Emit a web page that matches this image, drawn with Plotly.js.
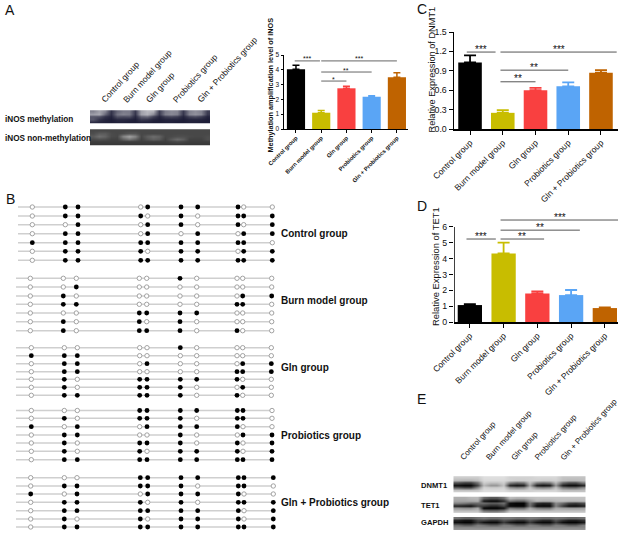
<!DOCTYPE html>
<html><head><meta charset="utf-8">
<script src="https://cdn.plot.ly/plotly-3.0.1.min.js"></script>
<style>html,body{margin:0;padding:0;background:#fff}#c{width:625px;height:533px}</style>
</head><body><div id="c"></div>
<script>
const groups = ['Control group','Burn model group','Gln group','Probiotics group','Gln + Probiotics group'];
const colors = ['#000000','#c8bd00','#f94040','#5aa5f5','#bf6300'];

const inosValues = [4.03,1.1,2.75,2.18,3.5];
const inosErrors = [0.28,0.15,0.14,0.07,0.3];
const dnmtValues = [1.03,0.25,0.6,0.66,0.87];
const dnmtErrors = [0.11,0.04,0.035,0.06,0.04];
const tetValues  = [1.07,4.33,1.8,1.7,0.88];
const tetErrors  = [0.05,0.68,0.13,0.32,0.04];

// significance brackets: [from, to, level, stars]
const inosSig = [[-0.05,0.95,4.6,'***'],[1,4,4.6,'***'],[1,3,3.85,'**'],[1,2,3.24,'*']];
const dnmtSig = [[-0.1,0.78,1.19,'***'],[0.93,4.48,1.19,'***'],[0.93,3,0.91,'**'],[0.93,2,0.73,'**']];
const tetSig  = [[-0.1,0.77,5.24,'***'],[0.91,4.42,6.44,'***'],[0.91,3.26,5.8,'**'],[0.91,2.2,5.24,'**']];

// CpG sites (x) and rows (y) per group of the lollipop panel, in page pixels
const cpgControl = [32.3,65.3,78,140.7,147.7,181,197.7,238,243.7,272.3];
const cpgBurn    = [30.3,63.3,76.3,139.3,146.7,180,196.7,237,242.7,271.7];
const cpgGln     = [31.3,64.3,77.3,139.7,147,180.3,196.7,237,242.7,271.3];
const cpgProb    = [31.3,64.3,77.3,139.7,147,180.3,196.7,237.3,243,272];
const cpgBoth    = [30.7,64.3,77,140.3,147.7,181,197.7,238.3,244,273.3];
const rowsControl = [207,216,224.7,233.7,242.7,251.3,260.3];
const rowsBurn    = [278.3,287,296,304.3,313,321.7,330.7];
const rowsGln     = [347.7,355.7,363.7,371.7,379.3,387.3,395.3];
const rowsProb    = [410.5,418.3,426.7,435,443,451.3,459.7];
const rowsBoth    = [477.7,486,494,502.3,510.7,519,527];
const methControl = ['0110111100','0111010111','0010110101','0110101011','1111111110','0111011011','0111111111'];
const methBurn    = ['0000010000','0010000000','0100000011','0110000110','0001111000','0101010000','0101110100'];
const methGln     = ['0000010000','1110000000','0110100011','0110000111','0101111100','0101110010','0111110100'];
const methProb    = ['0001111110','0101110110','1010111100','0110010011','0101110101','0101011101','0111111111'];
const methBoth    = ['0001111111','0111110110','1010111100','0111010111','0111111101','0101011101','0111111111'];
const lollipop = [
  {cpg:cpgControl,rows:rowsControl,meth:methControl,start:18,end:274},
  {cpg:cpgBurn,rows:rowsBurn,meth:methBurn,start:16,end:274},
  {cpg:cpgGln,rows:rowsGln,meth:methGln,start:16,end:274},
  {cpg:cpgProb,rows:rowsProb,meth:methProb,start:16,end:274},
  {cpg:cpgBoth,rows:rowsBoth,meth:methBoth,start:16,end:275}
];
const lollipopLabelY = [233,300.5,367.5,435,502];

// gel densitometry (grey level, 0 black - 255 white)
const gelAX = [93,99,105,111,117,123,129,135,141,147,153,159,165,171,177,183,189,195,201,207];
const gelMethY = [111.5,114,116.5,119,122];
const gelMethZ = [
 [120,150,120,40,90,110,110,45,150,175,165,50,110,125,120,45,115,130,115,50],
 [150,160,90,35,105,120,110,40,150,170,125,45,115,125,115,40,120,135,120,45],
 [75,70,40,25,70,65,70,28,85,95,55,25,50,60,50,25,55,65,50,25],
 [75,40,25,18,30,30,25,18,45,40,25,18,25,25,25,18,25,25,25,18],
 [30,25,22,18,22,22,18,18,22,22,18,18,22,22,18,18,22,22,18,18]];
const gelNonY = [130.5,133,136,139,141.5,144];
const gelNonZ = [
 [72,72,72,72,72,72,72,72,72,72,72,72,72,72,72,72,72,72,72,72],
 [78,92,92,76,72,78,86,86,72,72,72,72,72,72,72,72,72,72,72,72],
 [92,112,100,75,72,135,165,135,72,95,110,100,72,75,80,80,75,72,72,78],
 [72,78,75,66,66,95,115,95,66,82,95,88,66,90,108,95,66,66,66,78],
 [62,62,62,62,62,62,62,62,62,62,62,62,62,68,74,68,62,62,62,62],
 [56,56,56,56,56,56,56,56,56,56,56,56,56,56,56,56,56,56,56,56]];
const gelEX = [457,464,470,477,483,490,496,503,509,516,523,529,536,542,549,555,562,568,575,582];
const dnmt1Y = [477.5,480,482.5,485,487.5,490.5];
const dnmt1Z = [
 [205,205,205,205,222,222,222,222,210,210,210,210,215,215,215,215,195,195,195,195],
 [185,180,180,190,218,218,218,218,210,205,205,210,210,205,205,210,190,185,185,190],
 [90,70,70,120,208,195,195,208,140,115,125,195,135,120,130,190,110,85,85,130],
 [15,5,5,70,185,150,150,195,40,20,30,170,30,15,25,150,30,10,10,35],
 [90,70,70,140,212,205,205,212,150,130,140,200,140,130,140,195,120,105,105,140],
 [205,205,205,205,222,222,222,222,210,210,210,210,215,215,215,215,195,195,195,195]];
const tet1Y = [498,500.5,503,505.5,508,511];
const tet1Z = [
 [175,175,185,185,110,90,90,120,190,180,180,190,195,195,195,195,195,195,195,195],
 [165,165,170,175,25,10,10,45,120,100,100,150,185,175,175,185,190,185,185,190],
 [135,125,110,110,110,95,95,115,15,5,5,120,50,35,40,140,110,70,60,80],
 [35,25,15,70,60,40,40,70,10,5,5,110,12,8,8,130,60,15,12,30],
 [150,140,140,170,5,0,0,20,120,105,105,170,125,115,115,170,160,155,155,160],
 [195,195,195,195,130,120,120,140,195,195,195,195,195,195,195,195,195,195,195,195]];
const gapdhY = [518,520,522,524.5,527,529];
const gapdhZ = [
 [115,100,100,115,125,115,115,125,125,115,115,125,120,110,110,120,115,105,105,115],
 [35,20,20,70,70,50,50,85,70,50,50,85,60,40,40,85,50,30,30,50],
 [15,5,5,55,20,10,10,60,25,10,10,60,20,10,10,60,15,5,5,25],
 [110,90,90,125,115,95,95,125,120,95,95,125,115,95,95,125,115,95,95,125],
 [135,135,135,135,135,135,135,135,135,135,135,135,135,135,135,135,135,135,135,135],
 [150,150,150,150,150,150,150,150,150,150,150,150,150,150,150,150,150,150,150,150]];

const blackWhite = [[0,'#000000'],[1,'#ffffff']];
const navyWhite = [[0,'#0c0c28'],[0.5,'#8c8c98'],[1,'#ffffff']];
const FONT = '"Liberation Sans", Arial, sans-serif';
const idx = [0,1,2,3,4];
const traces = [];
const annotations = [];

function gel(x,y,z,scale){
  traces.push({type:'heatmap',x:x,y:y,z:z,zmin:0,zmax:255,colorscale:scale,showscale:false,zsmooth:'best',
    xaxis:'x4',yaxis:'y4',hoverinfo:'skip'});
}
gel(gelAX,gelMethY,gelMethZ,navyWhite);
gel(gelAX,gelNonY,gelNonZ,blackWhite);
gel(gelEX,dnmt1Y,dnmt1Z,blackWhite);
gel(gelEX,tet1Y,tet1Z,blackWhite);
gel(gelEX,gapdhY,gapdhZ,blackWhite);

function bars(axN,values,errors,sig,ebW,ebT,starSize,lineCol,starOff){
  const xa='x'+axN, ya='y'+axN;
  idx.forEach(i=>{
    traces.push({type:'bar',x:[i],y:[values[i]],xaxis:xa,yaxis:ya,width:0.72,
      marker:{color:colors[i],line:{width:0}},
      error_y:{type:'data',array:[errors[i]],arrayminus:[0],visible:true,color:colors[i],thickness:ebT,width:ebW},
      hoverinfo:'skip'});
  });
  sig.forEach(s=>{
    traces.push({type:'scatter',mode:'lines',x:[s[0],s[1]],y:[s[2],s[2]],xaxis:xa,yaxis:ya,cliponaxis:false,
      line:{color:lineCol,width:1},hoverinfo:'skip'});
    annotations.push({xref:xa,yref:ya,x:(s[0]+s[1])/2,y:s[2],text:s[3],showarrow:false,yanchor:'middle',yshift:starOff,
      font:{family:FONT,size:starSize,color:'#111'}});
  });
}
bars(1,inosValues,inosErrors,inosSig,3.5,1.5,7,'#666',2);
bars(2,dnmtValues,dnmtErrors,dnmtSig,6,1.8,10,'#555',3);
bars(3,tetValues,tetErrors,tetSig,6,1.8,10,'#555',3);

// y-axis line of panel D stops at 6 while the brackets run above it
const tetAxisTop = 6;
traces.push({type:'scatter',mode:'lines',x:[-0.47,-0.47],y:[0,tetAxisTop],xaxis:'x3',yaxis:'y3',cliponaxis:false,
  line:{color:'#000',width:1.5},hoverinfo:'skip'});

lollipop.forEach(g=>{
  const lx=[],ly=[],ox=[],oy=[],fx=[],fy=[];
  g.rows.forEach((r,ri)=>{
    lx.push(g.start,g.end,null); ly.push(r,r,null);
    g.cpg.forEach((c,ci)=>{
      if(g.meth[ri][ci]==='1'){fx.push(c);fy.push(r);} else {ox.push(c);oy.push(r);}
    });
  });
  traces.push({type:'scatter',mode:'lines',x:lx,y:ly,xaxis:'x4',yaxis:'y4',line:{color:'#cfcfcf',width:1.4},hoverinfo:'skip'});
  traces.push({type:'scatter',mode:'markers',x:ox,y:oy,xaxis:'x4',yaxis:'y4',hoverinfo:'skip',
    marker:{size:4.4,color:'#ffffff',line:{color:'#999999',width:0.9}}});
  traces.push({type:'scatter',mode:'markers',x:fx,y:fy,xaxis:'x4',yaxis:'y4',hoverinfo:'skip',
    marker:{size:4.8,color:'#000000'}});
});

function txt(x,y,t,size,opts){
  annotations.push(Object.assign({xref:'x4',yref:'y4',x:x,y:y,text:t,showarrow:false,xanchor:'left',yanchor:'middle',
    font:{family:FONT,size:size,color:'#111'}},opts||{}));
}
[['A',3,10],['B',4,199],['C',415,9],['D',415,206],['E',415,399]].forEach(p=>txt(p[1],p[2],p[0],14));
groups.forEach((g,i)=>txt(279,lollipopLabelY[i],'<b>'+g+'</b>',10));
txt(3,119,'<b>iNOS methylation</b>',8.2);
txt(3,138,'<b>iNOS non-methylation</b>',8.2);
txt(419,485,'<b>DNMT1</b>',7.6);
txt(419,505,'<b>TET1</b>',7.6);
txt(419,522,'<b>GAPDH</b>',7.6);
const labelAx = [96,118,141,168,193];
const labelEx = [456,481,507,530,556];
groups.forEach((g,i)=>{
  txt(labelAx[i],107,g,8.5,{textangle:-48,yanchor:'bottom'});
  txt(labelEx[i],465,g,8,{textangle:-48,yanchor:'bottom'});
});
function ytitle(x,y,t,size){
  txt(x,y,t,size,{textangle:-90,xanchor:'center',yanchor:'middle'});
}
ytitle(270,85.5,'<b>Methylation amplification level of iNOS</b>',7.3);
ytitle(431.5,70,'Relative Expression of DNMT1',9.2);
ytitle(435,267,'Relative Expression of TET1',9.4);

function barX(l,r,rangeL,rangeR,fs,labels){
  return {domain:[l/625,r/625],range:[rangeL,rangeR],tickmode:'array',tickvals:idx,ticktext:labels,tickangle:-45,
    showgrid:false,zeroline:false,showline:true,linecolor:'#000',linewidth:fs>7?1.5:1,ticks:'outside',ticklen:fs>7?4:2.5,tickwidth:1,tickcolor:'#000',
    tickfont:{family:FONT,size:fs,color:'#111'},fixedrange:true};
}
function barY(b,t,max,dt,fs){
  return {domain:[1-b/533,1-t/533],range:[0,max],dtick:dt,tickformat:dt<1?'.1f':'d',showgrid:false,zeroline:false,showline:true,linecolor:'#000',linewidth:fs>7?1.5:1,
    ticks:'outside',ticklen:fs>7?4:2.5,tickwidth:1,tickcolor:'#000',tickfont:{family:FONT,size:fs,color:'#111'},fixedrange:true};
}
const ax = (a,o)=>Object.assign(a,o);
const layout = {
  width:625,height:533,margin:{l:0,r:0,t:0,b:0},paper_bgcolor:'#fff',plot_bgcolor:'rgba(0,0,0,0)',showlegend:false,barmode:'overlay',
  xaxis:ax(barX(284,408,-0.475,4.44,5.8,groups.map(g=>'<b>'+g+'</b>')),{anchor:'y'}),
  yaxis:ax(barY(129,55,5,1,6.5),{anchor:'x'}),
  xaxis2:ax(barX(454,618,-0.49,4.52,8.5,groups),{anchor:'y2'}),
  yaxis2:ax(barY(129,32,1.5,0.3,8.8),{anchor:'x2'}),
  xaxis3:ax(barX(454,618,-0.47,4.39,8.5,groups),{anchor:'y3'}),
  yaxis3:ax(barY(322,215.9,6.7,1,8.8),{anchor:'x3',showline:false}),
  xaxis4:{domain:[0,1],range:[0,625],visible:false,fixedrange:true,anchor:'y4'},
  yaxis4:{domain:[0,1],range:[533,0],visible:false,fixedrange:true,anchor:'x4'},
  annotations:annotations
};
Plotly.newPlot('c',traces,layout,{displayModeBar:false,staticPlot:true});
</script></body></html>
